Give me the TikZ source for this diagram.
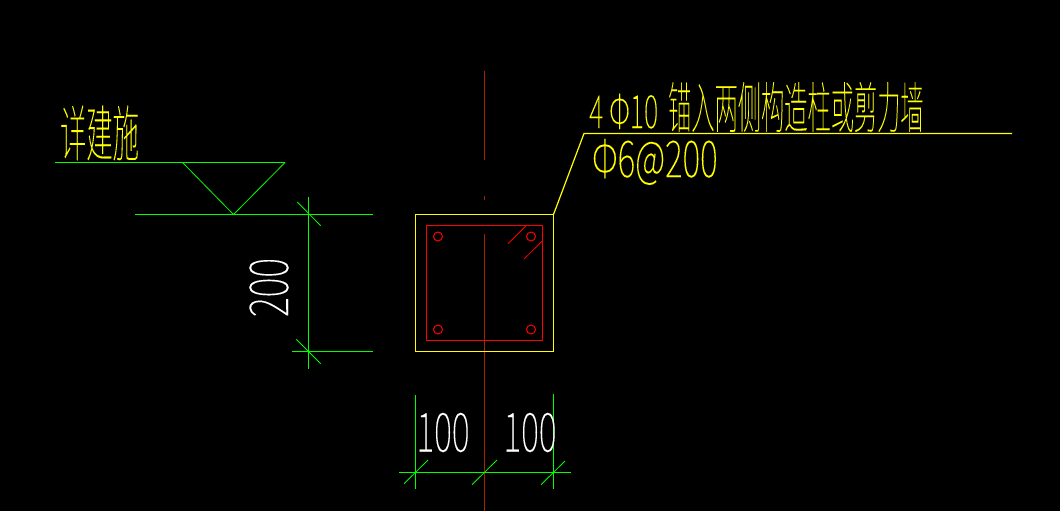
\documentclass[tikz,border=0pt]{standalone}
\usepackage{fontspec}
\setmainfont{Noto Sans CJK SC}[UprightFont=* Thin, UprightFeatures={FakeBold=0.15}]
\usetikzlibrary{positioning}
\definecolor{cadgreen}{RGB}{0,255,0}
\definecolor{cadyellow}{RGB}{255,255,0}
\definecolor{cadred}{RGB}{255,0,0}
\definecolor{cadaxis}{RGB}{165,35,0}
\tikzset{
dimline/.style={draw=cadgreen, line width=1.2pt},
dimtick/.style={draw=cadgreen, line width=.8pt},
steel/.style={draw=cadred, line width=1.2pt},
leader/.style={draw=cadyellow, line width=1.2pt},
axisline/.style={draw=cadaxis, line width=1.2pt},
dimtext/.style={text=white, inner sep=0, font=\fontsize{54}{54}\selectfont, xscale=.63},
notetext/.style={text=cadyellow, inner sep=0, font=\fontsize{46}{46}\selectfont, xscale=.505, yscale=1.2}
}
\begin{document}
\begin{tikzpicture}[x=1pt,y=-1pt]
    \useasboundingbox[fill=black] (0,0) rectangle (1060,511);
    % axis
    \path [axisline] (484.5,71) -- (484.5,160);
    \path [axisline] (484.5,196) -- (484.5,200);
    \path [axisline] (484.5,234) -- (484.5,511);
    % column
    \draw [leader] (415.5,214.5) rectangle (553.5,351.5);
    \draw [steel] (426.5,225.5) rectangle (542.5,340.5);
    \foreach \px/\py in {438/236.5,531/236.5,438/329.5,531/329.5}
      \draw [steel, line width=1pt] (\px,\py) circle (4.5);
    \path [steel, line width=.8pt] (526,225.7) -- (508,243.7);
    \path [steel, line width=.8pt] (542.3,241) -- (524,259);
    % leader and notes
    \path [leader] (553.5,214.5) -- (584,133.5) -- (1012,133.5);
    \node [notetext, xscale=1.17, yscale=.83, anchor=base west] (barcount) at (589,128) {4 Φ10};
    \node [notetext, anchor=base west] (barnote) at (668,128) {锚入两侧构造柱或剪力墙};
    \node [notetext, xscale=1.45, yscale=.92, anchor=base west] (stirrup) at (592,177) {Φ6@200};
    % section mark
    \path [dimline] (55,162.5) -- (285,162.5);
    \path [dimtick] (182.5,162.5) -- (233.5,214.5) -- (285,162.5);
    \node [notetext, xscale=1.13, yscale=1.1, anchor=base west] (refnote) at (60,156) {详建施};
    % height dimension
    \path [dimline] (135,214.5) -- (372.7,214.5);
    \path [dimline] (292.3,351.5) -- (372.7,351.5);
    \path [dimline] (308.5,197.3) -- (308.5,368.7);
    \path [dimtick] (297.3,202) -- (320.7,225.7);
    \path [dimtick] (296.3,339.3) -- (320.7,363.7);
    \node [dimtext, xscale=1/.63, yscale=.7, rotate=90] (heightdim) at (269,287.5) {200};
    % width dimension
    \path [dimline] (399,472.5) -- (571,472.5);
    \path [dimline] (415.5,395) -- (415.5,489.3);
    \path [dimline] (553.5,394) -- (553.5,488.7);
    \path [dimtick] (404,483.7) -- (428,460);
    \path [dimtick] (472,484.7) -- (497,460);
    \path [dimtick] (541,484.7) -- (565,461);
    \node [dimtext] (widthdiml) at (443,432.5) {100};
    \node [dimtext] (widthdimr) at (530,432.5) {100};
\end{tikzpicture}
\end{document}
